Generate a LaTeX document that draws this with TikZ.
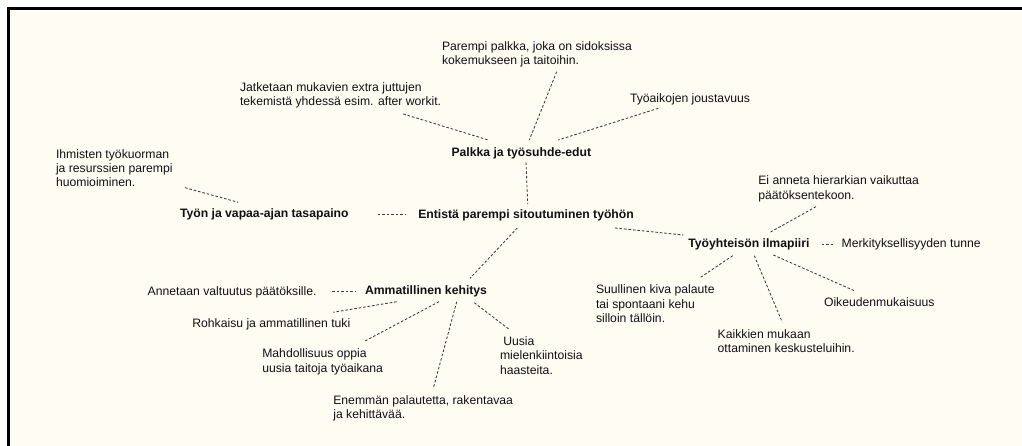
\documentclass[tikz,border=0pt]{standalone}
\usepackage{fontspec}
\setmainfont{Liberation Sans}
\usetikzlibrary{calc}
\definecolor{bgcream}{HTML}{FFFCF4}
\definecolor{txtc}{HTML}{111111}
\definecolor{linec}{HTML}{3A3A3A}
\tikzset{
  lbl/.style={anchor=base west, inner sep=0pt, outer sep=0pt, align=left, text=txtc,
    font=\fontsize{12.2}{14.2}\selectfont},
  hub/.style={lbl, font=\fontsize{12.2}{14.2}\selectfont\bfseries},
  conn/.style={draw=linec, line width=0.85pt, dash pattern=on 2.6pt off 1.9pt}
}
\begin{document}
\begin{tikzpicture}[x=1pt, y=-1pt]
\useasboundingbox (0,0) rectangle (1022,446);
\fill[white] (0,0) rectangle (1022,446);
\fill[bgcream] (8.5,8.5) rectangle (1022,446);
\draw[black, line width=2.6pt] (8.5,446) -- (8.5,8.5) -- (1022,8.5);

% main topics
\node[hub] (ent) at (418.3,218.5) {Entistä parempi sitoutuminen työhön};
\node[hub] (pk) at (451.5,156.2) {Palkka ja työsuhde-edut};
\node[hub] (tyon) at (180,217.5) {Työn ja vapaa-ajan tasapaino};
\node[hub] (ty) at (688.3,247.5) {Työyhteisön ilmapiiri};
\node[hub] (amm) at (365,294.5) {Ammatillinen kehitys};

% leaves (anchor = baseline of the last line)
\node[lbl] (par) at (442,64.9) {Parempi palkka, joka on sidoksissa\\kokemukseen ja taitoihin.};
\node[lbl] (jat) at (240,105.9) {Jatketaan mukavien extra juttujen\\tekemistä yhdessä esim. after workit.};
\node[lbl] (tyoa) at (630,102.5) {Työaikojen joustavuus};
\node[lbl] (ihm) at (56,186.9) {Ihmisten työkuorman\\ja resurssien parempi\\huomioiminen.};
\node[lbl] (ei) at (758.3,199.2) {Ei anneta hierarkian vaikuttaa\\päätöksentekoon.};
\node[lbl] (mer) at (841.7,247.5) {Merkityksellisyyden tunne};
\node[lbl] (suu) at (596,322.2) {Suullinen kiva palaute\\tai spontaani kehu\\silloin tällöin.};
\node[lbl] (oik) at (824,306.8) {Oikeudenmukaisuus};
\node[lbl] (kai) at (717.7,352.2) {Kaikkien mukaan\\ottaminen keskusteluihin.};
\node[lbl] (ann) at (147.7,295.2) {Annetaan valtuutus päätöksille.};
\node[lbl] (roh) at (192.3,327.5) {Rohkaisu ja ammatillinen tuki};
\node[lbl] (mah) at (262.3,372) {Mahdollisuus oppia\\uusia taitoja työaikana};
\node[lbl] (enem) at (333.3,418.9) {Enemmän palautetta, rakentavaa\\ja kehittävää.};
\node[lbl] (uus) at (500,374) {\hspace{3.3pt}Uusia\\mielenkiintoisia\\haasteita.};

% connectors
\draw[conn] ($(tyon.base west)+(197.7,-3.5)$) -- ($(ent.base west)+(-13.3,-4.5)$);
\draw[conn] ($(ihm.base west)+(129,0.8)$) -- ($(tyon.base west)+(58.3,-15.2)$);
\draw[conn] ($(jat.base west)+(163.3,8.1)$) -- ($(pk.base west)+(36.8,-16.2)$);
\draw[conn] ($(par.base west)+(114.7,6.8)$) -- ($(pk.base west)+(77.8,-16.2)$);
\draw[conn] ($(tyoa.base west)+(28.3,5.8)$) -- ($(pk.base west)+(106.8,-16.2)$);
\draw[conn] ($(pk.base west)+(74.5,6.1)$) -- ($(ent.base west)+(109.4,-14.5)$);
\draw[conn] ($(ent.base west)+(99,9.5)$) -- ($(amm.base west)+(105,-16.2)$);
\draw[conn] ($(ent.base west)+(196.7,9.5)$) -- ($(ty.base west)+(-5,-12.5)$);
\draw[conn] ($(ei.base west)+(57.7,7.5)$) -- ($(ty.base west)+(81.7,-15.2)$);
\draw[conn] ($(ty.base west)+(133.4,-3.5)$) -- ($(mer.base west)+(-8.7,-3.5)$);
\draw[conn] ($(ty.base west)+(44.4,8.2)$) -- ($(suu.base west)+(104,-44.5)$);
\draw[conn] ($(ty.base west)+(66,8.2)$) -- ($(kai.base west)+(64.6,-29.9)$);
\draw[conn] ($(ty.base west)+(85,7.5)$) -- ($(oik.base west)+(31,-15.8)$);
\draw[conn] ($(ann.base west)+(184.6,-4.2)$) -- ($(amm.base west)+(-9,-3.5)$);
\draw[conn] ($(amm.base west)+(31.7,7.2)$) -- ($(roh.base west)+(141,-15.2)$);
\draw[conn] ($(amm.base west)+(74,7.2)$) -- ($(mah.base west)+(102.7,-31)$);
\draw[conn] ($(amm.base west)+(91.7,7.2)$) -- ($(enem.base west)+(100,-30.6)$);
\draw[conn] ($(amm.base west)+(109.3,8.2)$) -- ($(uus.base west)+(10,-44)$);
\end{tikzpicture}
\end{document}
